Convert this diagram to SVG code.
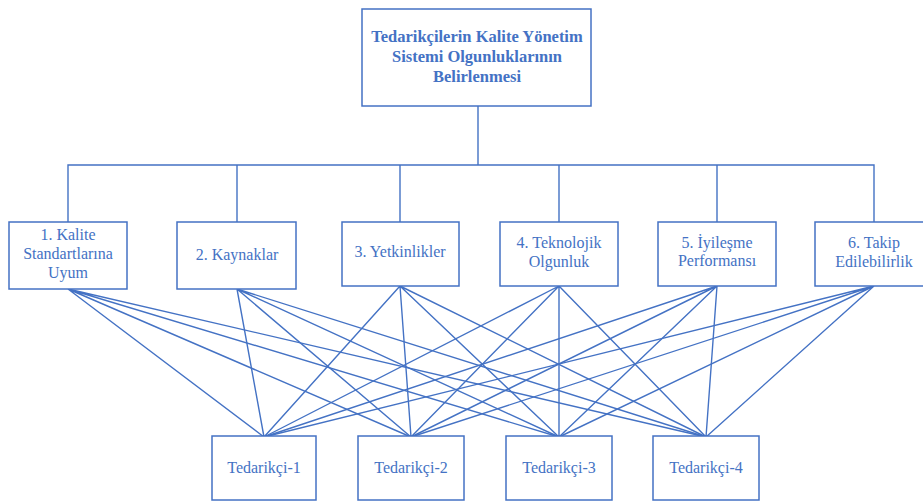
<svg xmlns="http://www.w3.org/2000/svg" width="923" height="502" viewBox="0 0 923 502">
<style>
.box{fill:#fff;stroke:#4472C4;stroke-width:1.5}
.ln{stroke:#4472C4;stroke-width:1.4;fill:none}
text{font-family:"Liberation Serif","Times New Roman",serif;font-size:16px;fill:#4472C4;text-anchor:middle}
.t{font-weight:bold;font-size:16.5px}
</style>
<rect width="923" height="502" fill="#fff"/>
<g id="connectors" class="ln">
<path d="M478 106V165M68 222V165H874V222M237 165V222M400 165V222M559 165V222M717 165V222"/>
<path d="M68 289L264 437M68 289L411 437M68 289L559 437M68 289L706 437"/>
<path d="M237 289L264 437M237 289L411 437M237 289L559 437M237 289L706 437"/>
<path d="M400 286L264 437M400 286L411 437M400 286L559 437M400 286L706 437"/>
<path d="M559 286L264 437M559 286L411 437M559 286L559 437M559 286L706 437"/>
<path d="M717 286L264 437M717 286L411 437M717 286L559 437M717 286L706 437"/>
<path d="M874 286L264 437M874 286L411 437M874 286L559 437M874 286L706 437"/>
</g>
<g id="root"><rect class="box" x="362" y="9" width="229" height="97"/>
<text class="t" x="477" y="42">Tedarikçilerin Kalite Yönetim</text>
<text class="t" x="477" y="62">Sistemi Olgunluklarının</text>
<text class="t" x="477" y="82">Belirlenmesi</text></g>
<g id="c1"><rect class="box" x="9" y="222" width="118" height="67"/>
<text x="68" y="240">1. Kalite</text><text x="68" y="259">Standartlarına</text><text x="68" y="278">Uyum</text></g>
<g id="c2"><rect class="box" x="177" y="222" width="119" height="67"/>
<text x="237" y="260">2. Kaynaklar</text></g>
<g id="c3"><rect class="box" x="342" y="222" width="117" height="64"/>
<text x="400" y="257">3. Yetkinlikler</text></g>
<g id="c4"><rect class="box" x="500" y="222" width="118" height="64"/>
<text x="559" y="248">4. Teknolojik</text><text x="559" y="267">Olgunluk</text></g>
<g id="c5"><rect class="box" x="658" y="222" width="118" height="64"/>
<text x="717" y="248">5. İyileşme</text><text x="717" y="266">Performansı</text></g>
<g id="c6"><rect class="box" x="815" y="222" width="118" height="64"/>
<text x="874" y="248">6. Takip</text><text x="874" y="267">Edilebilirlik</text></g>
<g id="s1"><rect class="box" x="212" y="436" width="104" height="64"/><text x="264" y="473">Tedarikçi-1</text></g>
<g id="s2"><rect class="box" x="358" y="436" width="106" height="64"/><text x="411" y="473">Tedarikçi-2</text></g>
<g id="s3"><rect class="box" x="506" y="436" width="106" height="64"/><text x="559" y="473">Tedarikçi-3</text></g>
<g id="s4"><rect class="box" x="653" y="436" width="106" height="64"/><text x="706" y="473">Tedarikçi-4</text></g>
</svg>
